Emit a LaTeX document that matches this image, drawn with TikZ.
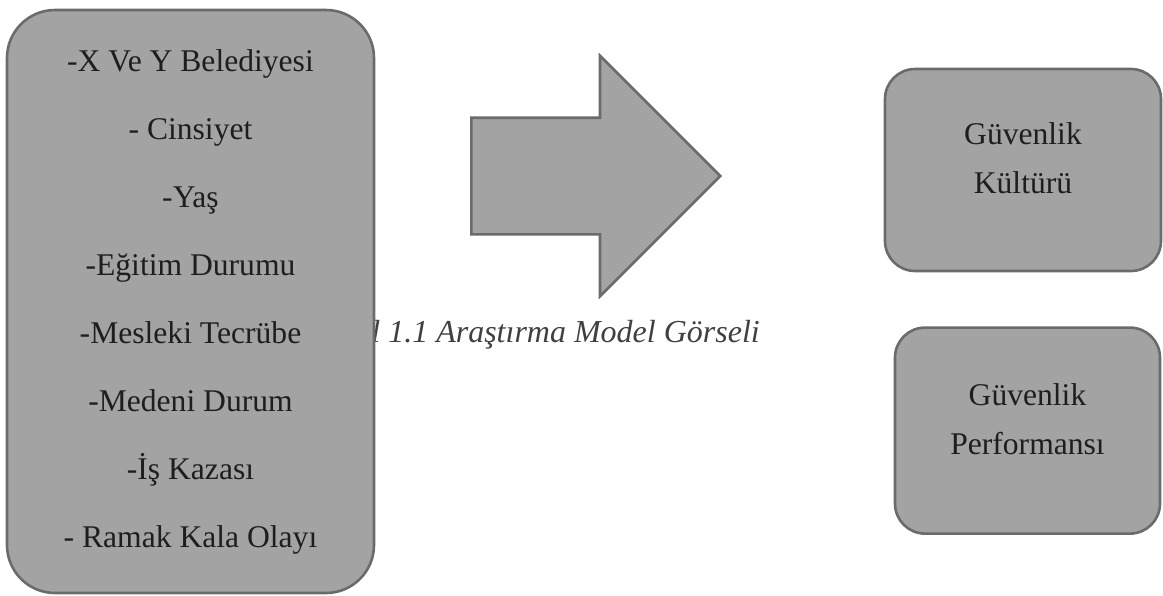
\documentclass[tikz,border=0pt]{standalone}
\usepackage{fontspec}
\setmainfont{Liberation Serif}
\usepackage{xcolor}
\usetikzlibrary{positioning,shapes.arrows}
\definecolor{boxgray}{HTML}{A3A3A3}
\definecolor{edgegray}{HTML}{6B6B6B}
\definecolor{inkgray}{HTML}{1E1E1E}
\tikzset{
  card/.style={draw=edgegray, line width=1.3pt, fill=boxgray, rounded corners=15pt, align=center, inner sep=0pt, text=inkgray, font=\fontsize{15.8}{34}\selectfont},
  listcard/.style={card, rounded corners=24pt, minimum width=183.5pt, minimum height=291.5pt},
  smallcard/.style={card, font=\fontsize{15.8}{24.5}\selectfont, text depth=12pt},
  bigarrow/.style={single arrow, draw=edgegray, line width=1.3pt, fill=boxgray, single arrow head extend=31pt, inner xsep=0pt, inner ysep=28.5pt, minimum height=124.5pt},
  capt/.style={font=\fontsize{16}{19}\selectfont\itshape, text=inkgray!85, inner sep=0pt},
}

\begin{document}
\begin{tikzpicture}[x=0.5pt, y=-0.5pt]
\useasboundingbox (0,0) rectangle (1163,595);
\node[capt, anchor=base west] (cap) at (371,342) {l 1.1 Araştırma Model Görseli};
\node[listcard] (vars) at (190.5,301.5) {-X Ve Y Belediyesi\\- Cinsiyet\\-Yaş\\-Eğitim Durumu\\-Mesleki Tecrübe\\-Medeni Durum\\-İş Kazası\\- Ramak Kala Olayı};
\node[bigarrow, anchor=tail] (flow) at (470,176) {};
\node[smallcard, minimum width=138pt, minimum height=101pt] (culture) at (1023,170) {Güvenlik\\Kültürü};
\node[smallcard, minimum width=132.5pt, minimum height=103pt, below=27pt of culture, xshift=2.25pt] (perf) {Güvenlik\\Performansı};
\end{tikzpicture}
\end{document}
